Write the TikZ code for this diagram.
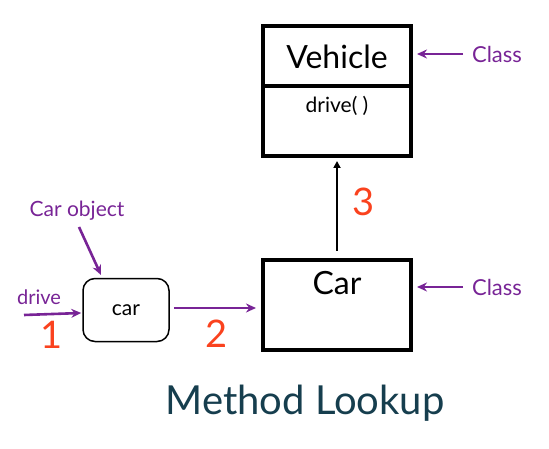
\documentclass[tikz,border=0pt]{standalone}
\usepackage{fontspec}
\setmainfont{Lato}
\usetikzlibrary{arrows.meta}
\definecolor{purp}{RGB}{120,36,150}
\definecolor{numred}{RGB}{250,66,30}
\definecolor{teal}{RGB}{22,62,78}
\tikzset{
  classbox/.style={draw=black,line width=4pt,minimum width=148pt,inner sep=0pt},
  objbox/.style={draw=black,line width=1.5pt,rounded corners=12pt,minimum width=86pt,minimum height=63pt,inner sep=0pt},
  parrow/.style={draw=purp,line width=2.6pt,-{Stealth[length=10pt,width=9pt]}},
  barrow/.style={draw=black,line width=2.4pt,-{Triangle[length=7pt,width=7pt]}},
  plabel/.style={text=purp,font=\fontsize{20}{22}\selectfont,inner sep=0pt},
  num/.style={text=numred,font=\fontsize{38}{42}\selectfont,inner sep=0pt}
}
\begin{document}
\begin{tikzpicture}[x=1pt,y=-1pt]
\useasboundingbox (0,0) rectangle (549,449);
% Vehicle class box
\node[classbox,minimum height=60pt,anchor=north west] (vtop) at (261,24) {};
\node[classbox,minimum height=70pt,anchor=north west] (vbot) at (261,84) {};
\node[font=\fontsize{32}{36}\selectfont] (vname) at (337,57) {Vehicle};
\node[font=\fontsize{21}{24}\selectfont] (vdrive) at (337,106) {drive( )};
% Car class box
\node[classbox,minimum height=90pt,anchor=north west] (car) at (261,258) {};
\node[font=\fontsize{32}{36}\selectfont] (cname) at (337,283) {Car};
% car object
\node[objbox] (obj) at (126,310) {\fontsize{21}{24}\selectfont car};
% labels
\node[plabel,font=\fontsize{22}{24}\selectfont] (cls1) at (497,54) {Class};
\node[plabel,font=\fontsize{22}{24}\selectfont] (cls2) at (497,287) {Class};
\node[plabel] (drv) at (39,297) {drive};
\node[plabel,font=\fontsize{21}{24}\selectfont] (cobj) at (77,211) {Car object};
\node[num] (n1) at (52,335) {1};
\node[num] (n2) at (217,334) {2};
\node[num] (n3) at (364,202) {3};
\node[text=teal,font=\fontsize{40}{44}\selectfont] (title) at (305,403) {Method Lookup};
% connectors
\coordinate (c1s) at (463,54);
\coordinate (c2s) at (463,287);
\coordinate (ds) at (24,315);
\coordinate (os) at (79,227);
\coordinate (oe) at (101,275);
\draw[parrow] (c1s) -- ([xshift=4pt]vtop.east |- c1s);
\draw[parrow] (c2s) -- ([xshift=4pt]car.east |- c2s);
\draw[parrow] (ds) -- ([xshift=-1pt,yshift=-3pt]obj.west);
\draw[parrow] (os) -- (oe);
\draw[parrow] ([xshift=4pt,yshift=2pt]obj.east) -- ([xshift=-5pt,yshift=-3pt]car.west);
\draw[barrow] ([yshift=7pt]car.north) -- ([yshift=-3pt]vbot.south);
\end{tikzpicture}
\end{document}
